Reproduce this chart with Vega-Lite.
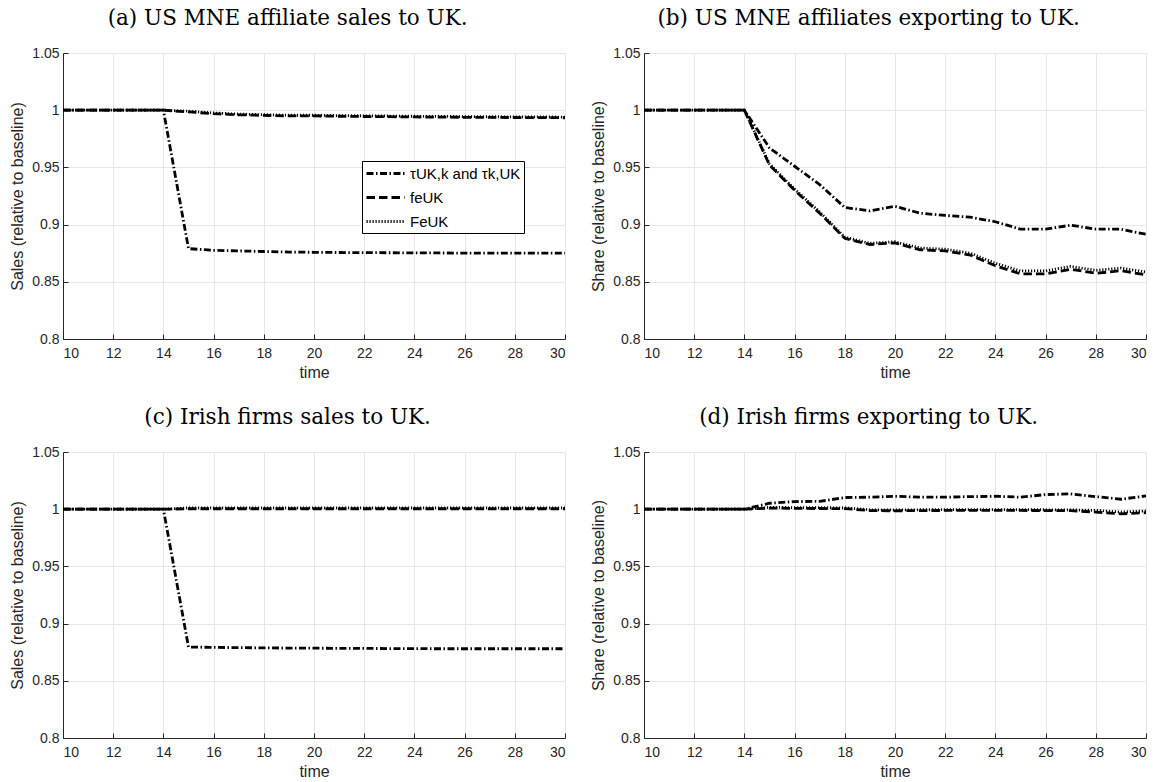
{
  "$schema": "https://vega.github.io/schema/vega-lite/v6.json",
  "background": "white",
  "padding": {"left": 9, "top": 7, "right": 5, "bottom": 5},
  "columns": 2,
  "spacing": {"row": 113, "column": 79},
  "bounds": "flush",
  "resolve": {"legend": {"strokeDash": "independent", "strokeWidth": "independent"}},
  "config": {
    "view": {"stroke": null},
    "title": {"font": "DejaVu Serif", "fontSize": 21.5, "fontWeight": "normal", "color": "black", "offset": 17, "anchor": "middle", "frame": "bounds"},
    "axis": {
      "domainColor": "#262626", "tickColor": "#262626", "labelColor": "#262626", "titleColor": "#262626",
      "gridColor": "#e6e6e6", "gridWidth": 1, "domainWidth": 1, "tickWidth": 1,
      "labelFont": "Liberation Sans", "labelFontSize": 14, "titleFont": "Liberation Sans", "titleFontSize": 16, "titleFontWeight": "normal",
      "tickSize": -5
    },
    "axisX": {"labelPadding": 12, "titlePadding": 4},
    "axisY": {"labelPadding": 9, "titlePadding": 6},
    "legend": {
      "title": null, "orient": "none", "legendX": 299, "legendY": 108,
      "symbolType": "M-1,0H3.75", "symbolSize": 256, "symbolStrokeColor": "black",
      "strokeColor": "black", "fillColor": "white", "padding": 3, "cornerRadius": 0, "rowPadding": 6,
      "labelFont": "Liberation Sans", "labelFontSize": 15, "labelColor": "black", "labelOffset": 26
    }
  },
  "datasets": {
    "a": [
      {"t":10,"s":"tau","v":1},{"t":11,"s":"tau","v":1},{"t":12,"s":"tau","v":1},{"t":13,"s":"tau","v":1},{"t":14,"s":"tau","v":1},
      {"t":15,"s":"tau","v":0.879},{"t":16,"s":"tau","v":0.8775},{"t":17,"s":"tau","v":0.877},{"t":18,"s":"tau","v":0.8765},{"t":19,"s":"tau","v":0.876},
      {"t":20,"s":"tau","v":0.8758},{"t":21,"s":"tau","v":0.8756},{"t":22,"s":"tau","v":0.8755},{"t":23,"s":"tau","v":0.8754},{"t":24,"s":"tau","v":0.8753},
      {"t":25,"s":"tau","v":0.8752},{"t":26,"s":"tau","v":0.8751},{"t":27,"s":"tau","v":0.875},{"t":28,"s":"tau","v":0.875},{"t":29,"s":"tau","v":0.875},{"t":30,"s":"tau","v":0.875},
      {"t":10,"s":"fe","v":1},{"t":11,"s":"fe","v":1},{"t":12,"s":"fe","v":1},{"t":13,"s":"fe","v":1},{"t":14,"s":"fe","v":1},
      {"t":15,"s":"fe","v":0.9985},{"t":16,"s":"fe","v":0.997},{"t":17,"s":"fe","v":0.996},{"t":18,"s":"fe","v":0.9955},{"t":19,"s":"fe","v":0.995},
      {"t":20,"s":"fe","v":0.995},{"t":21,"s":"fe","v":0.9947},{"t":22,"s":"fe","v":0.9945},{"t":23,"s":"fe","v":0.9943},{"t":24,"s":"fe","v":0.9941},
      {"t":25,"s":"fe","v":0.994},{"t":26,"s":"fe","v":0.9938},{"t":27,"s":"fe","v":0.9937},{"t":28,"s":"fe","v":0.9936},{"t":29,"s":"fe","v":0.9935},{"t":30,"s":"fe","v":0.9934},
      {"t":10,"s":"Fe","v":1},{"t":11,"s":"Fe","v":1},{"t":12,"s":"Fe","v":1},{"t":13,"s":"Fe","v":1},{"t":14,"s":"Fe","v":1},
      {"t":15,"s":"Fe","v":0.9991},{"t":16,"s":"Fe","v":0.9976},{"t":17,"s":"Fe","v":0.9966},{"t":18,"s":"Fe","v":0.9961},{"t":19,"s":"Fe","v":0.9956},
      {"t":20,"s":"Fe","v":0.9956},{"t":21,"s":"Fe","v":0.9953},{"t":22,"s":"Fe","v":0.9951},{"t":23,"s":"Fe","v":0.9949},{"t":24,"s":"Fe","v":0.9947},
      {"t":25,"s":"Fe","v":0.9946},{"t":26,"s":"Fe","v":0.9944},{"t":27,"s":"Fe","v":0.9943},{"t":28,"s":"Fe","v":0.9942},{"t":29,"s":"Fe","v":0.9941},{"t":30,"s":"Fe","v":0.994}
    ],
    "b": [
      {"t":10,"s":"tau","v":1},{"t":11,"s":"tau","v":1},{"t":12,"s":"tau","v":1},{"t":13,"s":"tau","v":1},{"t":14,"s":"tau","v":1},
      {"t":15,"s":"tau","v":0.967},{"t":16,"s":"tau","v":0.951},{"t":17,"s":"tau","v":0.935},{"t":18,"s":"tau","v":0.915},{"t":19,"s":"tau","v":0.912},
      {"t":20,"s":"tau","v":0.916},{"t":21,"s":"tau","v":0.910},{"t":22,"s":"tau","v":0.908},{"t":23,"s":"tau","v":0.9065},{"t":24,"s":"tau","v":0.9025},
      {"t":25,"s":"tau","v":0.896},{"t":26,"s":"tau","v":0.896},{"t":27,"s":"tau","v":0.8995},{"t":28,"s":"tau","v":0.896},{"t":29,"s":"tau","v":0.896},{"t":30,"s":"tau","v":0.8915},
      {"t":10,"s":"fe","v":1},{"t":11,"s":"fe","v":1},{"t":12,"s":"fe","v":1},{"t":13,"s":"fe","v":1},{"t":14,"s":"fe","v":1},
      {"t":15,"s":"fe","v":0.952},{"t":16,"s":"fe","v":0.930},{"t":17,"s":"fe","v":0.910},{"t":18,"s":"fe","v":0.888},{"t":19,"s":"fe","v":0.8826},
      {"t":20,"s":"fe","v":0.884},{"t":21,"s":"fe","v":0.878},{"t":22,"s":"fe","v":0.877},{"t":23,"s":"fe","v":0.8734},{"t":24,"s":"fe","v":0.864},
      {"t":25,"s":"fe","v":0.857},{"t":26,"s":"fe","v":0.857},{"t":27,"s":"fe","v":0.861},{"t":28,"s":"fe","v":0.8574},{"t":29,"s":"fe","v":0.8597},{"t":30,"s":"fe","v":0.856},
      {"t":10,"s":"Fe","v":1},{"t":11,"s":"Fe","v":1},{"t":12,"s":"Fe","v":1},{"t":13,"s":"Fe","v":1},{"t":14,"s":"Fe","v":1},
      {"t":15,"s":"Fe","v":0.953},{"t":16,"s":"Fe","v":0.931},{"t":17,"s":"Fe","v":0.911},{"t":18,"s":"Fe","v":0.889},{"t":19,"s":"Fe","v":0.8836},
      {"t":20,"s":"Fe","v":0.885},{"t":21,"s":"Fe","v":0.8795},{"t":22,"s":"Fe","v":0.8785},{"t":23,"s":"Fe","v":0.875},{"t":24,"s":"Fe","v":0.8662},
      {"t":25,"s":"Fe","v":0.8595},{"t":26,"s":"Fe","v":0.8595},{"t":27,"s":"Fe","v":0.8635},{"t":28,"s":"Fe","v":0.86},{"t":29,"s":"Fe","v":0.862},{"t":30,"s":"Fe","v":0.8585}
    ],
    "c": [
      {"t":10,"s":"tau","v":1},{"t":11,"s":"tau","v":1},{"t":12,"s":"tau","v":1},{"t":13,"s":"tau","v":1},{"t":14,"s":"tau","v":1},
      {"t":15,"s":"tau","v":0.8795},{"t":16,"s":"tau","v":0.8792},{"t":17,"s":"tau","v":0.879},{"t":18,"s":"tau","v":0.8788},{"t":19,"s":"tau","v":0.8786},
      {"t":20,"s":"tau","v":0.8785},{"t":21,"s":"tau","v":0.8784},{"t":22,"s":"tau","v":0.8783},{"t":23,"s":"tau","v":0.8782},{"t":24,"s":"tau","v":0.8781},
      {"t":25,"s":"tau","v":0.878},{"t":26,"s":"tau","v":0.878},{"t":27,"s":"tau","v":0.878},{"t":28,"s":"tau","v":0.878},{"t":29,"s":"tau","v":0.878},{"t":30,"s":"tau","v":0.878},
      {"t":10,"s":"fe","v":1},{"t":11,"s":"fe","v":1},{"t":12,"s":"fe","v":1},{"t":13,"s":"fe","v":1},{"t":14,"s":"fe","v":1},
      {"t":15,"s":"fe","v":1.0004},{"t":16,"s":"fe","v":1.0004},{"t":17,"s":"fe","v":1.0004},{"t":18,"s":"fe","v":1.0004},{"t":19,"s":"fe","v":1.0004},
      {"t":20,"s":"fe","v":1.0004},{"t":21,"s":"fe","v":1.0004},{"t":22,"s":"fe","v":1.0004},{"t":23,"s":"fe","v":1.0004},{"t":24,"s":"fe","v":1.0004},
      {"t":25,"s":"fe","v":1.0004},{"t":26,"s":"fe","v":1.0004},{"t":27,"s":"fe","v":1.0004},{"t":28,"s":"fe","v":1.0004},{"t":29,"s":"fe","v":1.0004},{"t":30,"s":"fe","v":1.0004},
      {"t":10,"s":"Fe","v":1},{"t":11,"s":"Fe","v":1},{"t":12,"s":"Fe","v":1},{"t":13,"s":"Fe","v":1},{"t":14,"s":"Fe","v":1},
      {"t":15,"s":"Fe","v":1.0012},{"t":16,"s":"Fe","v":1.0012},{"t":17,"s":"Fe","v":1.0012},{"t":18,"s":"Fe","v":1.0012},{"t":19,"s":"Fe","v":1.0012},
      {"t":20,"s":"Fe","v":1.0012},{"t":21,"s":"Fe","v":1.0012},{"t":22,"s":"Fe","v":1.0012},{"t":23,"s":"Fe","v":1.0012},{"t":24,"s":"Fe","v":1.0012},
      {"t":25,"s":"Fe","v":1.0012},{"t":26,"s":"Fe","v":1.0012},{"t":27,"s":"Fe","v":1.0012},{"t":28,"s":"Fe","v":1.0012},{"t":29,"s":"Fe","v":1.0012},{"t":30,"s":"Fe","v":1.0012}
    ],
    "d": [
      {"t":10,"s":"tau","v":1},{"t":11,"s":"tau","v":1},{"t":12,"s":"tau","v":1},{"t":13,"s":"tau","v":1},{"t":14,"s":"tau","v":1},
      {"t":15,"s":"tau","v":1.0052},{"t":16,"s":"tau","v":1.0067},{"t":17,"s":"tau","v":1.0068},{"t":18,"s":"tau","v":1.0102},{"t":19,"s":"tau","v":1.0105},
      {"t":20,"s":"tau","v":1.0113},{"t":21,"s":"tau","v":1.0105},{"t":22,"s":"tau","v":1.0105},{"t":23,"s":"tau","v":1.011},{"t":24,"s":"tau","v":1.0113},
      {"t":25,"s":"tau","v":1.0105},{"t":26,"s":"tau","v":1.0128},{"t":27,"s":"tau","v":1.0134},{"t":28,"s":"tau","v":1.011},{"t":29,"s":"tau","v":1.0087},{"t":30,"s":"tau","v":1.0116},
      {"t":10,"s":"fe","v":1},{"t":11,"s":"fe","v":1},{"t":12,"s":"fe","v":1},{"t":13,"s":"fe","v":1},{"t":14,"s":"fe","v":1},
      {"t":15,"s":"fe","v":1.001},{"t":16,"s":"fe","v":1.0007},{"t":17,"s":"fe","v":1.0006},{"t":18,"s":"fe","v":1.0005},{"t":19,"s":"fe","v":0.9988},
      {"t":20,"s":"fe","v":0.9986},{"t":21,"s":"fe","v":0.9988},{"t":22,"s":"fe","v":0.9989},{"t":23,"s":"fe","v":0.9989},{"t":24,"s":"fe","v":0.999},
      {"t":25,"s":"fe","v":0.9989},{"t":26,"s":"fe","v":0.9988},{"t":27,"s":"fe","v":0.9987},{"t":28,"s":"fe","v":0.9975},{"t":29,"s":"fe","v":0.996},{"t":30,"s":"fe","v":0.997},
      {"t":10,"s":"Fe","v":1},{"t":11,"s":"Fe","v":1},{"t":12,"s":"Fe","v":1},{"t":13,"s":"Fe","v":1},{"t":14,"s":"Fe","v":1},
      {"t":15,"s":"Fe","v":1.0016},{"t":16,"s":"Fe","v":1.0014},{"t":17,"s":"Fe","v":1.0013},{"t":18,"s":"Fe","v":1.0012},{"t":19,"s":"Fe","v":0.9995},
      {"t":20,"s":"Fe","v":0.9993},{"t":21,"s":"Fe","v":0.9995},{"t":22,"s":"Fe","v":0.9996},{"t":23,"s":"Fe","v":0.9996},{"t":24,"s":"Fe","v":0.9997},
      {"t":25,"s":"Fe","v":0.9996},{"t":26,"s":"Fe","v":0.9995},{"t":27,"s":"Fe","v":0.9994},{"t":28,"s":"Fe","v":0.999},{"t":29,"s":"Fe","v":0.9975},{"t":30,"s":"Fe","v":0.9985}
    ]
  },
  "concat": [
    {
      "title": "(a) US MNE affiliate sales to UK.",
      "width": 502, "height": 286,
      "data": {"name": "a"},
      "mark": {"type": "line", "color": "black", "clip": true},
      "encoding": {
        "x": {"field": "t", "type": "quantitative", "scale": {"domain": [10, 30], "nice": false}, "axis": {"values": [10,12,14,16,18,20,22,24,26,28,30], "title": "time"}},
        "y": {"field": "v", "type": "quantitative", "scale": {"domain": [0.8, 1.05], "nice": false, "zero": false}, "axis": {"values": [0.8,0.85,0.9,0.95,1,1.05], "format": ".2~f", "title": "Sales (relative to baseline)"}},
        "strokeDash": {"field": "s", "type": "ordinal", "scale": {"domain": ["tau","fe","Fe"], "range": [[7,2.5,1.5,2.5],[8.5,4],[1.2,1.8]]},
          "legend": {"labelExpr": "datum.label == 'tau' ? 'τUK,k and τk,UK' : datum.label == 'fe' ? 'feUK' : 'FeUK'"}},
        "strokeWidth": {"field": "s", "type": "ordinal", "scale": {"domain": ["tau","fe","Fe"], "range": [2.8,2.8,1.3]},
          "legend": {"labelExpr": "datum.label == 'tau' ? 'τUK,k and τk,UK' : datum.label == 'fe' ? 'feUK' : 'FeUK'"}}
      }
    },
    {
      "title": "(b) US MNE affiliates exporting to UK.",
      "width": 502, "height": 286,
      "data": {"name": "b"},
      "mark": {"type": "line", "color": "black", "clip": true},
      "encoding": {
        "x": {"field": "t", "type": "quantitative", "scale": {"domain": [10, 30], "nice": false}, "axis": {"values": [10,12,14,16,18,20,22,24,26,28,30], "title": "time"}},
        "y": {"field": "v", "type": "quantitative", "scale": {"domain": [0.8, 1.05], "nice": false, "zero": false}, "axis": {"values": [0.8,0.85,0.9,0.95,1,1.05], "format": ".2~f", "title": "Share (relative to baseline)"}},
        "strokeDash": {"field": "s", "type": "ordinal", "scale": {"domain": ["tau","fe","Fe"], "range": [[7,2.5,1.5,2.5],[8.5,4],[1.2,1.8]]}, "legend": null},
        "strokeWidth": {"field": "s", "type": "ordinal", "scale": {"domain": ["tau","fe","Fe"], "range": [2.8,2.8,1.3]}, "legend": null}
      }
    },
    {
      "title": "(c) Irish firms sales to UK.",
      "width": 502, "height": 286,
      "data": {"name": "c"},
      "mark": {"type": "line", "color": "black", "clip": true},
      "encoding": {
        "x": {"field": "t", "type": "quantitative", "scale": {"domain": [10, 30], "nice": false}, "axis": {"values": [10,12,14,16,18,20,22,24,26,28,30], "title": "time"}},
        "y": {"field": "v", "type": "quantitative", "scale": {"domain": [0.8, 1.05], "nice": false, "zero": false}, "axis": {"values": [0.8,0.85,0.9,0.95,1,1.05], "format": ".2~f", "title": "Sales (relative to baseline)"}},
        "strokeDash": {"field": "s", "type": "ordinal", "scale": {"domain": ["tau","fe","Fe"], "range": [[7,2.5,1.5,2.5],[8.5,4],[1.2,1.8]]}, "legend": null},
        "strokeWidth": {"field": "s", "type": "ordinal", "scale": {"domain": ["tau","fe","Fe"], "range": [2.8,2.8,1.3]}, "legend": null}
      }
    },
    {
      "title": "(d) Irish firms exporting to UK.",
      "width": 502, "height": 286,
      "data": {"name": "d"},
      "mark": {"type": "line", "color": "black", "clip": true},
      "encoding": {
        "x": {"field": "t", "type": "quantitative", "scale": {"domain": [10, 30], "nice": false}, "axis": {"values": [10,12,14,16,18,20,22,24,26,28,30], "title": "time"}},
        "y": {"field": "v", "type": "quantitative", "scale": {"domain": [0.8, 1.05], "nice": false, "zero": false}, "axis": {"values": [0.8,0.85,0.9,0.95,1,1.05], "format": ".2~f", "title": "Share (relative to baseline)"}},
        "strokeDash": {"field": "s", "type": "ordinal", "scale": {"domain": ["tau","fe","Fe"], "range": [[7,2.5,1.5,2.5],[8.5,4],[1.2,1.8]]}, "legend": null},
        "strokeWidth": {"field": "s", "type": "ordinal", "scale": {"domain": ["tau","fe","Fe"], "range": [2.8,2.8,1.3]}, "legend": null}
      }
    }
  ]
}
